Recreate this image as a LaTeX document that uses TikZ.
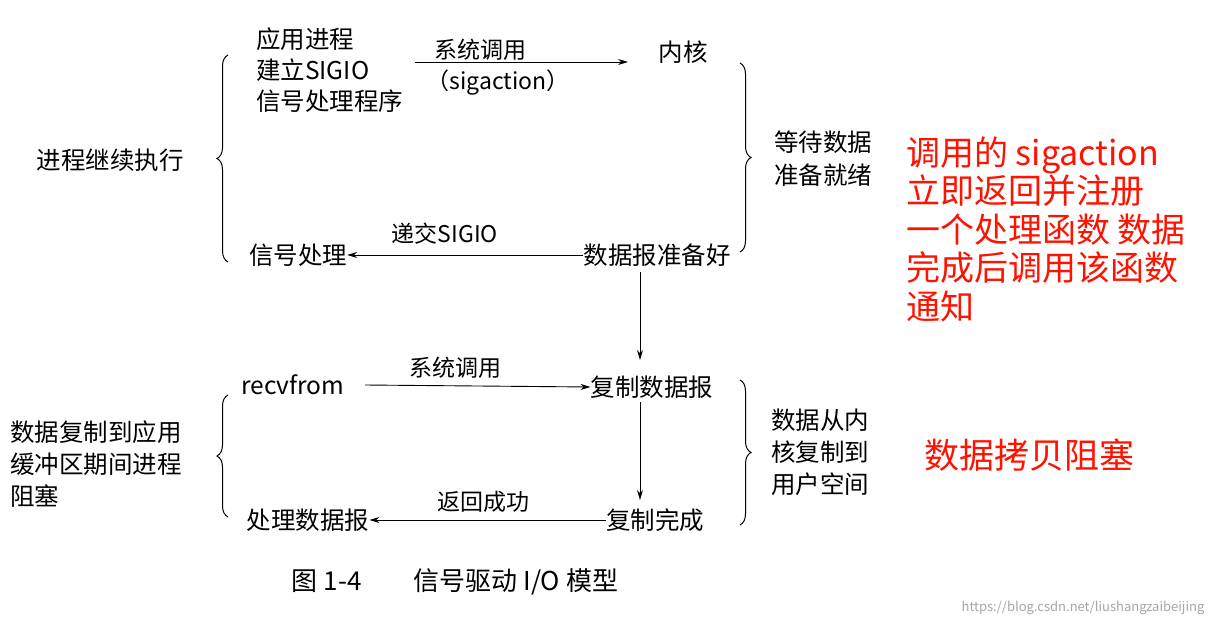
\documentclass[tikz,border=0pt]{standalone}
\usepackage{fontspec}
\setmainfont{Noto Sans CJK SC}
\usetikzlibrary{decorations.pathreplacing,arrows.meta}
\begin{document}
\begin{tikzpicture}[x=1pt,y=-1pt,
  txt/.style={font=\fontsize{24.5}{30}\selectfont, inner sep=0pt, align=left},
  lbl/.style={font=\fontsize{23}{26}\selectfont, inner sep=0pt},
  red/.style={text=red!85!orange, inner sep=0pt, align=left},
  arr/.style={-{Stealth[length=10pt,width=6pt]}, line width=0.9pt},
  brc/.style={decorate, decoration={brace, amplitude=11pt}, line width=1pt}]
\useasboundingbox (0,0) rectangle (1228,626);
\fill[white] (0,0) rectangle (1228,626);
% top part
\node[txt, anchor=west, font=\fontsize{24.5}{31}\selectfont] (app) at (256,70) {应用进程\\建立SIGIO\\信号处理程序};
\node[txt] (kern) at (683,52) {内核};
\coordinate (a1s) at (415,62); \coordinate (a1e) at (628,62);
\draw[arr] (a1s) -- (a1e);
\node[lbl] (l1) at (480,50) {系统调用};
\node[lbl] (l1b) at (498,83) {（sigaction）};
\coordinate (lb1t) at (228,55); \coordinate (lb1b) at (228,262);
\draw[brc] (lb1b) -- (lb1t);
\node[txt] (cont) at (110,160) {进程继续执行};
\coordinate (rb1t) at (740,63); \coordinate (rb1b) at (740,252);
\draw[brc] (rb1t) -- (rb1b);
\node[txt, anchor=west, font=\fontsize{24.5}{33}\selectfont] (wait) at (774,159) {等待数据\\准备就绪};
\node[txt] (sig) at (298,255) {信号处理};
\node[txt] (ready) at (657,255) {数据报准备好};
\draw[arr] (ready.west) -- (sig.east);
\node[lbl] (l2) at (445,234) {递交SIGIO};
\node[txt] (copy) at (652,387) {复制数据报};
\draw[arr] (640,272) -- (640,360);
% bottom part
\node[txt] (recv) at (293,385) {recvfrom};
\draw[arr] (365,385) -- (copy.west);
\node[lbl] (l3) at (455,368) {系统调用};
\coordinate (lb2t) at (228,395); \coordinate (lb2b) at (228,517);
\draw[brc] (lb2b) -- (lb2t);
\node[txt, anchor=west, font=\fontsize{24.5}{32}\selectfont] (blk) at (10,464) {数据复制到应用\\缓冲区期间进程\\阻塞};
\coordinate (rb2t) at (740,380); \coordinate (rb2b) at (740,525);
\draw[brc] (rb2t) -- (rb2b);
\node[txt, anchor=west, font=\fontsize{24.5}{32}\selectfont] (k2u) at (771,452) {数据从内\\核复制到\\用户空间};
\node[txt] (done) at (655,520) {复制完成};
\draw[arr] (640,402) -- (640,500);
\node[txt] (proc) at (308,520) {处理数据报};
\draw[arr] (done.west) -- (proc.east);
\node[lbl] (l4) at (483,502) {返回成功};
\node[txt, font=\fontsize{26}{30}\selectfont] (cap) at (455,582) {图 1-4\qquad 信号驱动 I/O 模型};
% red notes
\node[red, anchor=west, font=\fontsize{34}{38.5}\selectfont] (note1) at (906,229) {调用的 sigaction\\立即返回并注册\\一个处理函数 数据\\完成后调用该函数\\通知};
\node[red, font=\fontsize{35}{40}\selectfont] (note2) at (1029,455) {数据拷贝阻塞};
\node[font=\fontsize{13}{14}\selectfont, text=gray!70, inner sep=0pt] (wm) at (1083,608) {https://blog.csdn.net/liushangzaibeijing};
\end{tikzpicture}
\end{document}
